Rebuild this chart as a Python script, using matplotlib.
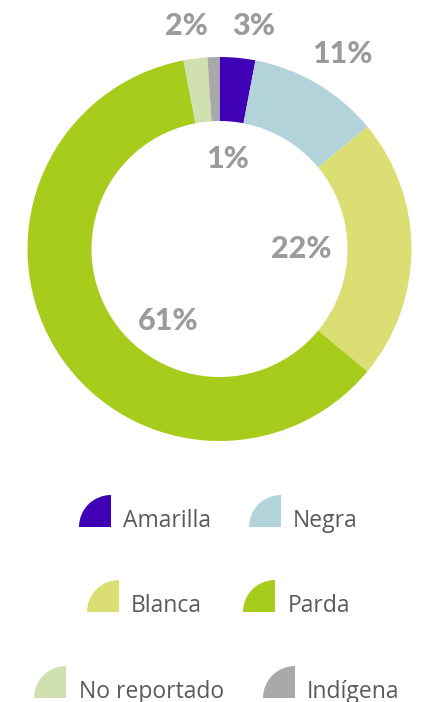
import numpy as np
import matplotlib.pyplot as plt
from matplotlib.patches import Wedge

# data
categories = ['Amarilla', 'Negra', 'Blanca', 'Parda', 'No reportado', 'Indígena']
values = [3, 11, 22, 61, 2, 1]
colors = ['#4000b5', '#b2d3da', '#dbdf73', '#a8cc1c', '#d1e0b0', '#a9a9a9']
pct_labels = ['3%', '11%', '22%', '61%', '2%', '1%']

# label positions (pixels, image coords)
label_pos = [(254, 35), (342, 63), (301, 258), (168, 330), (186, 35), (228, 168)]
# legend rows: (marker left x, marker bottom y, text x)
legend_pos = [(79, 527, 123), (249, 527, 293),
              (87, 612, 131), (243, 612, 288),
              (34, 698, 79), (263, 698, 307)]

W, H = 423, 702
fig = plt.figure(figsize=(W / 100, H / 100), dpi=100)
ax = fig.add_axes([0, 0, 1, 1])

ax.pie(values, colors=colors, startangle=90, counterclock=False,
       radius=192, center=(219.5, H - 249),
       wedgeprops=dict(width=192 - 128, linewidth=0))
ax.set_xlim(0, W)
ax.set_ylim(0, H)
ax.set_aspect('equal')
ax.axis('off')

for lab, (x, y) in zip(pct_labels, label_pos):
    ax.text(x, H - y, lab, ha='center', va='baseline', fontsize=22,
            fontweight='black', color='#9b9b9b', family='Lato')

msize = 32
for cat, col, (mx, my, tx) in zip(categories, colors, legend_pos):
    # quarter circle with corner at bottom right
    ax.add_patch(Wedge((mx + msize, H - my), msize, 90, 180, color=col, lw=0))
    ax.text(tx, H - my, cat, ha='left', va='baseline', fontsize=16.5,
            color='#5a5a5a', family='Open Sans')

fig.savefig('out.png', dpi=100)
